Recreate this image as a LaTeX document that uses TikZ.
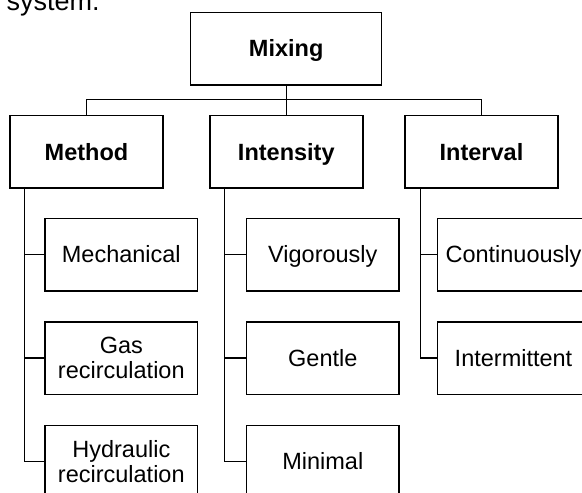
\documentclass[tikz,border=0pt]{standalone}
\usepackage{fontspec}
\setmainfont{Liberation Sans}
\begin{document}
\begin{tikzpicture}[x=1pt,y=-1pt,
  box/.style={draw,line width=1.5pt,minimum height=72.5pt,inner sep=0pt,
    align=center,font=\fontsize{23.5}{25.5}\selectfont},
  oneline/.style={text height=16.8pt,text depth=0pt},
  topbox/.style={box,oneline,minimum width=153pt,font=\fontsize{23.5}{25.5}\selectfont\bfseries},
  leafbox/.style={box,minimum width=152.5pt},
  link/.style={line width=1.2pt}]
\useasboundingbox (0,0) rectangle (582,493);
\clip (0,0) rectangle (582,493);

% caption fragment above the chart
\node[anchor=base west,inner sep=0pt,font=\fontsize{27}{30}\selectfont] (cap) at (6.5,10) {system.};

% root and first level
\node[box,oneline,minimum width=191pt,font=\fontsize{23.5}{25.5}\selectfont\bfseries] (mix) at (286.2,48.5) {Mixing};
\node[topbox] (method) at (86.5,151.7) {Method};
\node[topbox] (intensity) at (286.3,151.7) {Intensity};
\node[topbox] (interval) at (481.5,151.7) {Interval};

% second level
\node[leafbox,oneline] (mech) at (121.3,254.5) {Mechanical};
\node[leafbox] (gas) at (121.3,358) {Gas\\recirculation};
\node[leafbox] (hyd) at (121.3,461.5) {Hydraulic\\recirculation};
\node[leafbox,oneline] (vig) at (322.8,254.5) {Vigorously};
\node[leafbox,oneline] (gen) at (322.8,358) {Gentle};
\node[leafbox,oneline] (minl) at (322.8,461.5) {Minimal};
\node[leafbox,oneline] (cont) at (513.5,254.5) {Continuously};
\node[leafbox,oneline] (inter) at (513.5,358) {Intermittent};

% root bus
\coordinate (bus) at (0,99.5);
\draw[link] (mix.south) -- (mix.south |- bus);
\draw[link] (method.north) -- (method.north |- bus) -| (interval.north);
\draw[link] (intensity.north) -- (intensity.north |- bus);

% trunks to the leaves
\coordinate (tm) at ([xshift=15pt]method.south west);
\coordinate (ti) at ([xshift=15.7pt]intensity.south west);
\coordinate (tv) at ([xshift=16pt]interval.south west);
\draw[link] (tm) |- (hyd.west);
\draw[link] (tm |- mech.west) -- (mech.west);
\draw[link] (tm |- gas.west) -- (gas.west);
\draw[link] (ti) |- (minl.west);
\draw[link] (ti |- vig.west) -- (vig.west);
\draw[link] (ti |- gen.west) -- (gen.west);
\draw[link] (tv) |- (inter.west);
\draw[link] (tv |- cont.west) -- (cont.west);
\end{tikzpicture}
\end{document}
